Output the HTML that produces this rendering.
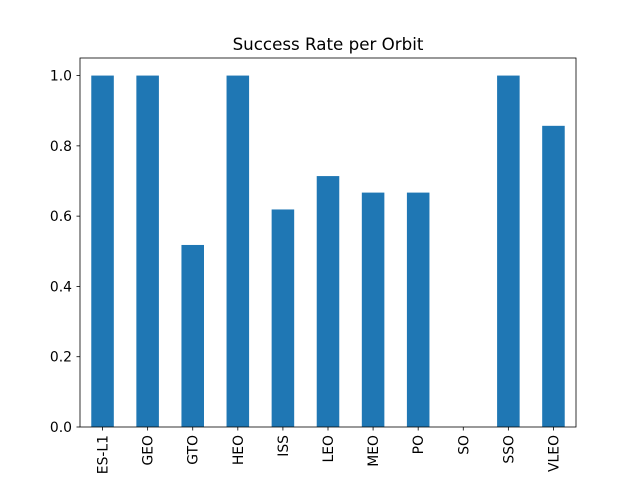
<!DOCTYPE html>
<html><head><meta charset="utf-8"><style>body{margin:0;background:#fff}svg{display:block;font-family:"DejaVu Sans","Liberation Sans",sans-serif}</style></head>
<body>
<svg id="chart" width="640" height="480" viewBox="0 0 640 480" xmlns="http://www.w3.org/2000/svg">
<rect width="640" height="480" fill="#fff"/>
<text x="328" y="50" text-anchor="middle" font-size="16.7">Success Rate per Orbit</text>
<g id="bars"></g><g id="axes"></g>
</svg>
<script>
const categories = ["ES-L1","GEO","GTO","HEO","ISS","LEO","MEO","PO","SO","SSO","VLEO"];
const successRates = [1.0,1.0,0.518,1.0,0.619,0.714,0.667,0.667,0,1.0,0.857];
const yTicks = [0,0.2,0.4,0.6,0.8,1.0];
const yTickLabels = ["0.0","0.2","0.4","0.6","0.8","1.0"];
const NS="http://www.w3.org/2000/svg";
const L=80,R=576,T=58,B=427,yMax=1.05;
const step=(R-L)/categories.length;
const xC=i=>L+step*(i+0.5);
const y=v=>B-(v/yMax)*(B-T);
function mk(t,a){const e=document.createElementNS(NS,t);for(const k in a)e.setAttribute(k,a[k]);return e;}
const bars=document.getElementById('bars'),axes=document.getElementById('axes');
categories.forEach((c,i)=>{
  const bw=step*0.5;
  const r=mk('rect',{x:xC(i)-bw/2,y:y(successRates[i]),width:bw,height:B-y(successRates[i]),fill:'#1f77b4'});
  
  
  bars.appendChild(r);
  const tk=mk('line',{x1:xC(i),x2:xC(i),y1:B,y2:B+3.5,stroke:'#000','stroke-width':0.8});
  
  
  axes.appendChild(tk);
  const tx=mk('text',{x:0,y:0,'font-size':13.9,'text-anchor':'end',transform:`translate(${xC(i)+5},${B+8}) rotate(-90)`});
  tx.textContent=c;
  
  
  axes.appendChild(tx);
});
yTicks.forEach((v,i)=>{
  const tk=mk('line',{x1:L-3.5,x2:L,y1:y(v),y2:y(v),stroke:'#000','stroke-width':0.8});
  
  
  axes.appendChild(tk);
  const tx=mk('text',{x:L-8,y:y(v)+5,'font-size':13.9,'text-anchor':'end'});
  tx.textContent=yTickLabels[i];
  
  
  axes.appendChild(tx);
});
const fr=mk('rect',{x:L,y:T,width:R-L,height:B-T,fill:'none',stroke:'#000','stroke-width':0.8});


axes.appendChild(fr);
</script>
</body></html>
